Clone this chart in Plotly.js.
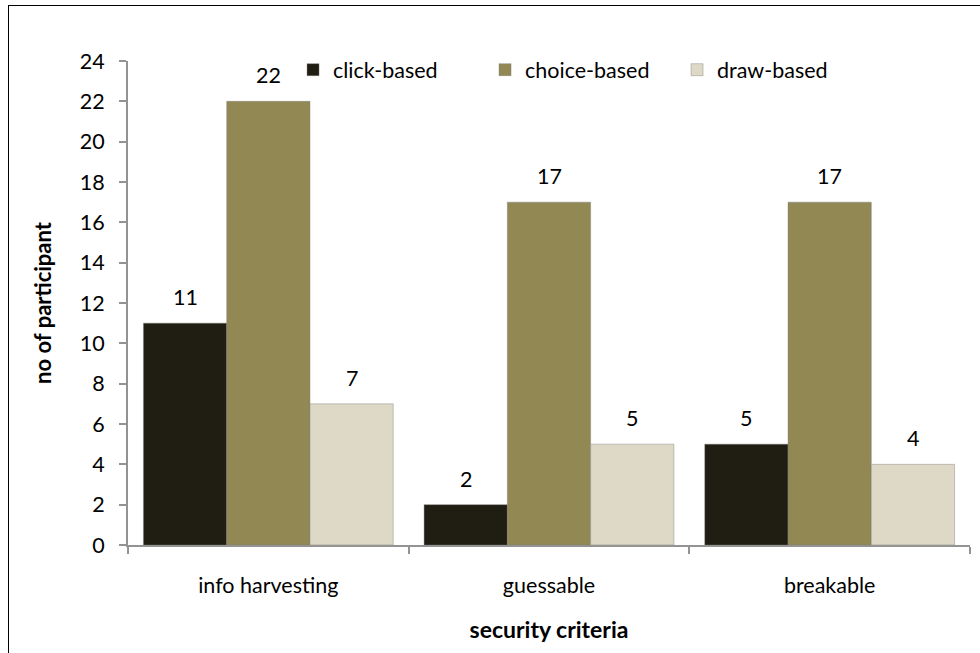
<!DOCTYPE html>
<html>
<head>
<meta charset="utf-8">
<script src="https://cdn.plot.ly/plotly-3.0.1.min.js"></script>
<style>
html,body{margin:0;padding:0;background:#fff;}
#wrap{position:relative;width:980px;height:653px;overflow:hidden;}
#chart{position:absolute;left:0;top:0;width:980px;height:653px;}
#frame{position:absolute;left:8px;top:5px;width:1000px;height:700px;border-top:1.5px solid #000;border-left:1.5px solid #000;pointer-events:none;}
</style>
</head>
<body>
<div id="wrap"><div id="chart"></div><div id="frame"></div></div>
<script>
var categories = ["info harvesting", "guessable", "breakable"];
var seriesNames = ["click-based", "choice-based", "draw-based"];
var clickBased = [11, 2, 5];
var choiceBased = [22, 17, 17];
var drawBased = [7, 5, 4];
var yTicks = [0, 2, 4, 6, 8, 10, 12, 14, 16, 18, 20, 22, 24];
var colors = ["#201e12", "#928854", "#ddd9c6"];

var FONT = "Lato, 'Open Sans', sans-serif";
var FS = 21.5;
var seriesValues = [clickBased, choiceBased, drawBased];
var bargap = 0.11;
var barW = (1 - bargap) / seriesValues.length;

var traces = seriesValues.map(function (vals, i) {
  return {
    type: "bar",
    name: seriesNames[i],
    x: categories,
    y: vals,
    marker: {color: colors[i], line: {color: "rgba(120,120,120,0.5)", width: 0.8}},
    hoverinfo: "none"
  };
});

var annotations = [];
seriesValues.forEach(function (vals, i) {
  vals.forEach(function (v, j) {
    annotations.push({
      x: j + (i - (seriesValues.length - 1) / 2) * barW,
      y: v,
      xref: "x",
      yref: "y",
      text: String(v),
      showarrow: false,
      yanchor: "bottom",
      yshift: 11,
      font: {family: FONT, size: FS, color: "#000"}
    });
  });
});

var layout = {
  width: 980,
  height: 653,
  margin: {l: 128, r: 10, t: 61, b: 108},
  paper_bgcolor: "#fff",
  plot_bgcolor: "#fff",
  barmode: "group",
  bargap: bargap,
  bargroupgap: 0,
  showlegend: true,
  legend: {
    orientation: "h",
    x: 0.196,
    xanchor: "left",
    y: 0.982,
    yanchor: "middle",
    font: {family: FONT, size: FS, color: "#000"},
    bgcolor: "rgba(0,0,0,0)",
    itemwidth: 30,
    entrywidth: 147,
    traceorder: "normal"
  },
  xaxis: {
    type: "category",
    showline: true,
    linecolor: "#939393",
    linewidth: 2,
    ticks: "outside",
    tickson: "boundaries",
    ticklen: 7,
    tickwidth: 2,
    tickcolor: "#939393",
    ticklabelstandoff: 20,
    tickfont: {family: FONT, size: FS, color: "#000"},
    showgrid: false,
    zeroline: false,
    title: {text: "<b>security criteria</b>", font: {family: FONT, size: 23, color: "#000"}, standoff: 25}
  },
  yaxis: {
    range: [0, 24],
    tickvals: yTicks,
    ticktext: yTicks.map(String),
    showline: true,
    linecolor: "#939393",
    linewidth: 2,
    ticks: "outside",
    ticklen: 7,
    tickwidth: 2,
    tickcolor: "#939393",
    ticklabelstandoff: 10,
    tickfont: {family: FONT, size: FS, color: "#000"},
    showgrid: false,
    zeroline: false,
    title: {text: "<b>no of participant</b>", font: {family: FONT, size: 22, color: "#000"}, standoff: 22}
  },
  annotations: annotations
};

Plotly.newPlot("chart", traces, layout, {displayModeBar: false, staticPlot: true});
</script>
</body>
</html>
